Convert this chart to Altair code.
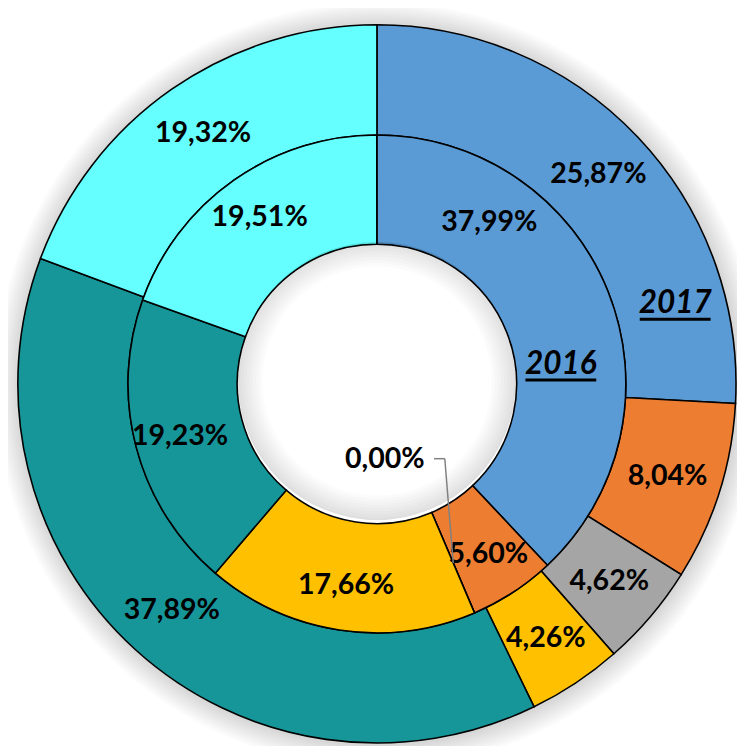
import math
import altair as alt
import pandas as pd

# ---- data ----
categories = ["Cat 1", "Cat 2", "Cat 3", "Cat 4", "Cat 5", "Cat 6"]
values_2016 = [37.99, 5.60, 0.00, 17.66, 19.23, 19.51]
values_2017 = [25.87, 8.04, 4.62, 4.26, 37.89, 19.32]
colors = ["#5B9BD5", "#ED7D31", "#A5A5A5", "#FFC000", "#17969A", "#66FFFF"]
series_names = ["2016", "2017"]

# ---- layout ----
W, H = 741, 742
CX, CY = 375, 376
R_HOLE, R_MID, R_OUT = 142, 253, 365
FONT = "Lato"
FS = 29


def fmt(v):
    return f"{v:.2f}%".replace(".", ",")


def frame(values, hide=()):
    return pd.DataFrame({
        "cat": categories,
        "idx": list(range(len(categories))),
        "value": values,
        "label": ["" if i in hide else fmt(v) for i, v in enumerate(values)],
    })


inner_df = frame(values_2016, hide=(0, 2))
outer_df = frame(values_2017)

color_scale = alt.Scale(domain=categories, range=colors)
one = pd.DataFrame({"a": [0]})
layers = []

# soft glow around outer ring
for k in range(1, 11):
    layers.append(
        alt.Chart(one).mark_arc(radius=R_OUT + 2.4 * k, radius2=R_OUT - 1, theta=0,
                                theta2=2 * math.pi, color="black", opacity=0.015)
        .encode(x=alt.value(CX + 1), y=alt.value(CY + 1))
    )


def ring(df, r1, r2):
    return alt.Chart(df).mark_arc(radius=r2, radius2=r1, stroke="black", strokeWidth=1.6).encode(
        theta=alt.Theta("value:Q", stack=True),
        color=alt.Color("cat:N", scale=color_scale, legend=None),
        order=alt.Order("idx:Q", sort="ascending"),
        x=alt.value(CX), y=alt.value(CY),
    )


def ring_labels(df, r):
    return alt.Chart(df).mark_text(radius=r, font=FONT, fontSize=FS, fontWeight="bold",
                                   color="black", baseline="middle", align="center").encode(
        theta=alt.Theta("value:Q", stack=True),
        order=alt.Order("idx:Q", sort="ascending"),
        text="label:N",
        x=alt.value(CX), y=alt.value(CY),
    )


layers.append(ring(outer_df, R_MID, R_OUT))
layers.append(ring(inner_df, R_HOLE, R_MID))

# shadow inside the hole
for k in range(1, 9):
    layers.append(
        alt.Chart(one).mark_arc(radius=R_HOLE - 0.5, radius2=R_HOLE - 3.2 * k, theta=0,
                                theta2=2 * math.pi, color="black", opacity=0.014)
        .encode(x=alt.value(CX), y=alt.value(CY - 3))
    )

layers.append(ring_labels(outer_df, 310))
layers.append(ring_labels(inner_df, 207))


def polar(angle_deg, r):
    a = math.radians(angle_deg)
    return CX + r * math.sin(a), CY - r * math.cos(a)


def note(text, angle_deg, r, italic=False, size=FS):
    x, y = polar(angle_deg, r)
    return alt.Chart(one).mark_text(font=FONT, fontSize=size, fontWeight="bold",
                                    fontStyle="italic" if italic else "normal",
                                    color="black", baseline="middle", align="center").encode(
        x=alt.value(x), y=alt.value(y), text=alt.value(text))


# moved labels
layers.append(note(fmt(values_2016[0]), 34.8, 200))
layers.append(note(fmt(values_2016[2]), 174.0, 77))

# leader line for the 0,00% label towards the gray slice
gray_angle = sum(values_2016[:2]) / sum(values_2016) * 360
ex, ey = polar(gray_angle, 198)
lx, ly = CX + 58, CY + 76
layers.append(alt.Chart(one).mark_rule(color="#808080", strokeWidth=1.5).encode(
    x=alt.value(lx), x2=alt.value(lx + 11), y=alt.value(ly), y2=alt.value(ly)))
layers.append(alt.Chart(one).mark_rule(color="#808080", strokeWidth=1.5).encode(
    x=alt.value(lx + 11), x2=alt.value(ex), y=alt.value(ly), y2=alt.value(ey)))

# series names (bold italic, underlined)
for name, ang, r in [(series_names[0], 83.9, 188), (series_names[1], 74.9, 314)]:
    layers.append(note(name, ang, r, italic=True, size=32))
    x, y = polar(ang, r)
    layers.append(alt.Chart(one).mark_rule(color="black", strokeWidth=3).encode(
        x=alt.value(x - 36), x2=alt.value(x + 36), y=alt.value(y + 16), y2=alt.value(y + 16)))

chart = alt.layer(*layers).properties(
    width=W, height=H, padding=0, autosize=alt.AutoSizeParams(type="none"),
    background="white",
).configure_view(stroke=None)

chart.save("out.html", embed_options={"renderer": "svg", "actions": False})
